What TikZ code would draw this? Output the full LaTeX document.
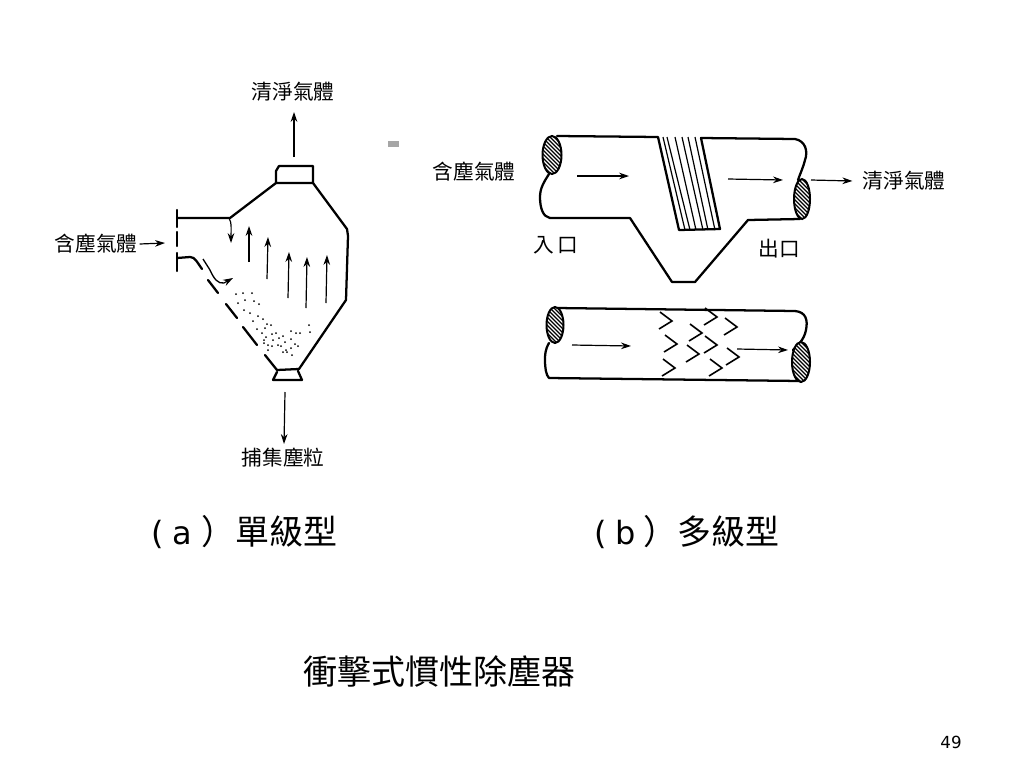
\documentclass[tikz,border=0pt]{standalone}
\usepackage{fontspec}
\setmainfont{DejaVu Sans}
\newfontfamily\cjk{Noto Sans CJK TC}
\usetikzlibrary{arrows.meta,calc}
\tikzset{
  wall/.style={line width=1.7pt,line join=round,line cap=round},
  thin wall/.style={line width=1pt},
  flow/.style={line width=0.9pt,-{Stealth[length=7.5pt,width=5pt]}},
  lab/.style={font=\cjk\fontsize{15.5}{18}\selectfont,inner sep=0pt},
  captext/.style={font=\fontsize{24}{27}\selectfont,inner sep=0pt,anchor=base west},
}
\newcommand{\hatchell}[4]{% cx cy rx ry in px
  \begin{scope}
    \clip (#1,#2) ellipse ({#3*0.75pt} and {#4*0.75pt});
    \fill[white] (#1-#3,#2-#4) rectangle (#1+#3,#2+#4);
    \foreach \k in {-40,-36,...,40}
      \draw[line width=0.85pt] (#1+\k-30,#2-30) -- (#1+\k+30,#2+30);
  \end{scope}
  \draw[line width=1.5pt] (#1,#2) ellipse ({#3*0.75pt} and {#4*0.75pt});
}
\begin{document}
\begin{tikzpicture}[x=0.75pt,y=-0.75pt]
\useasboundingbox (0,0) rectangle (1024,768);
\fill[white] (0,0) rectangle (1024,768);
% labels
\node[lab] (cleanA) at (293,92) {清淨氣體};
\node[lab] (dustA) at (96,244) {含塵氣體};
\node[lab] (collect) at (283,458) {捕集塵粒};
\node[lab] (dustB) at (474,172) {含塵氣體};
\node[lab] (cleanB) at (904,181) {清淨氣體};
\node[lab] (inlet) at (556,245) {入\,口};
\node[lab] (outlet) at (779,249) {出口};
\node[captext] (capA) at (151,544) {(\hspace{6.5pt}a\hspace{7pt}{\cjk\fontsize{25.5}{28}\selectfont ）單級型}};
\node[captext] (capB) at (594,544) {(\hspace{6.5pt}b\hspace{6pt}{\cjk\fontsize{25.5}{28}\selectfont ）多級型}};
\node[font=\cjk\fontsize{25.5}{28}\selectfont,inner sep=0pt] (title) at (439,671) {衝擊式慣性除塵器};
\node[font=\fontsize{12.5}{15}\selectfont,inner sep=0pt] (page) at (951,742) {49};
\fill[gray!70] (388,141) rectangle (399,147);
% diagram a: shell
\coordinate (topcap) at (294,157);
\coordinate (topend) at (294,112);
\coordinate (inA) at (165,243);
\coordinate (botA) at (285,392);
\coordinate (botend) at (284,444);
\draw[flow] (topcap) -- (topend);
\draw[flow] ($(dustA.east)+(2,0)$) -- (inA);
\draw[flow] (botA) -- (botend);
\draw[wall] (276,183) -- (276,171) -- (279,166) -- (313,166) -- (313,183) -- cycle;
\draw[wall] (177,218) -- (230,218) -- (276,183);
\draw[wall] (313,183) -- (347,229) -- (348,236) -- (346,300) -- (299,369);
\draw[wall] (177,210) -- (177,227) (177,232) -- (177,246) (177,253) -- (177,271);
\draw[wall] (177,258) -- (190,257) .. controls (195,257) and (197,262) .. (202,269);
\draw[thin wall] (203,259) -- (210,270) .. controls (214,279) and (218,284) .. (224,283);
\draw[flow] (224,283) -- (233,278);
\draw[wall] (208,280) -- (218,293) (226,304) -- (237,318) (243,327) -- (257,345) (265,355) -- (277,370);
\draw[wall] (277,370) -- (299,369) (277,372) -- (273,380) -- (302,380) -- (298,371);
\draw[flow] (229,218) .. controls (232,222) and (231,232) .. (231,243);
\draw[flow] (249,262) -- (249,226);
\draw[flow] (267,279) -- (268,237);
\draw[flow] (288,298) -- (289,252);
\draw[flow] (306,308) -- (307,257);
\draw[flow] (326,303) -- (327,255);
\foreach \x/\y in {236/294,243/293,252/293,238/303,245/300,254/301,259/304,244/310,250/313,258/316,263/319,253/321,257/329,265/328,267/324,271/325,
 262/333,266/337,272/334,276/333,264/343,268/345,273/340,278/345,268/350,279/338,283/336,291/331,296/333,300/333,309/325,310/332,281/346,285/342,291/339,295/344,286/350,291/348,292/355,287/352,298/346,283/352,264/340,272/346}
  \fill (\x,\y) circle (0.75pt);
% diagram b upper
\draw[wall] (557,136) -- (658,137) -- (679,230) -- (720,229) -- (701,138) -- (795,139)
  .. controls (806,141) and (808,152) .. (805,160) .. controls (803,168) and (800,174) .. (798,180);
\draw[wall] (549,174) .. controls (544,182) and (540,188) .. (540,197) .. controls (540,208) and (543,217) .. (550,218)
  -- (630,218) -- (672,282) -- (695,282) -- (748,220) -- (800,219);
\hatchell{552}{155}{9.5}{19}
\hatchell{802}{199}{8}{20}
\foreach \a/\b in {663/685,667/690,675/696,682/703,688/708,695/715}
  \draw[line width=0.9pt] (\a,137) -- (\b,230);
\draw[flow] (577,176) -- (629,176);
\draw[flow] (728,179) -- (783,180);
\coordinate (outB) at (811,180);
\draw[flow] (outB) -- ($(cleanB.west)+(-10,0)$);
% diagram b lower
\draw[wall] (557,308) -- (795,311) .. controls (806,312) and (808,320) .. (806,330) .. controls (804,340) and (798,345) .. (793,350);
\draw[wall] (549,343) .. controls (545,350) and (545,355) .. (545,360) .. controls (545,368) and (546,375) .. (549,378) -- (800,381);
\hatchell{555}{325}{8.5}{18}
\hatchell{801}{362}{9}{20}
\draw[flow] (572,345) -- (631,346);
\draw[flow] (737,349) -- (788,350);
\foreach \x/\y in {672/321,677/344,675/368,702/333,717/345,699/354,717/317,722/368,737/327,739/357}
  \draw[line width=1.2pt] (\x-12,\y-9) -- (\x,\y) -- (\x-13,\y+8);
\end{tikzpicture}
\end{document}
